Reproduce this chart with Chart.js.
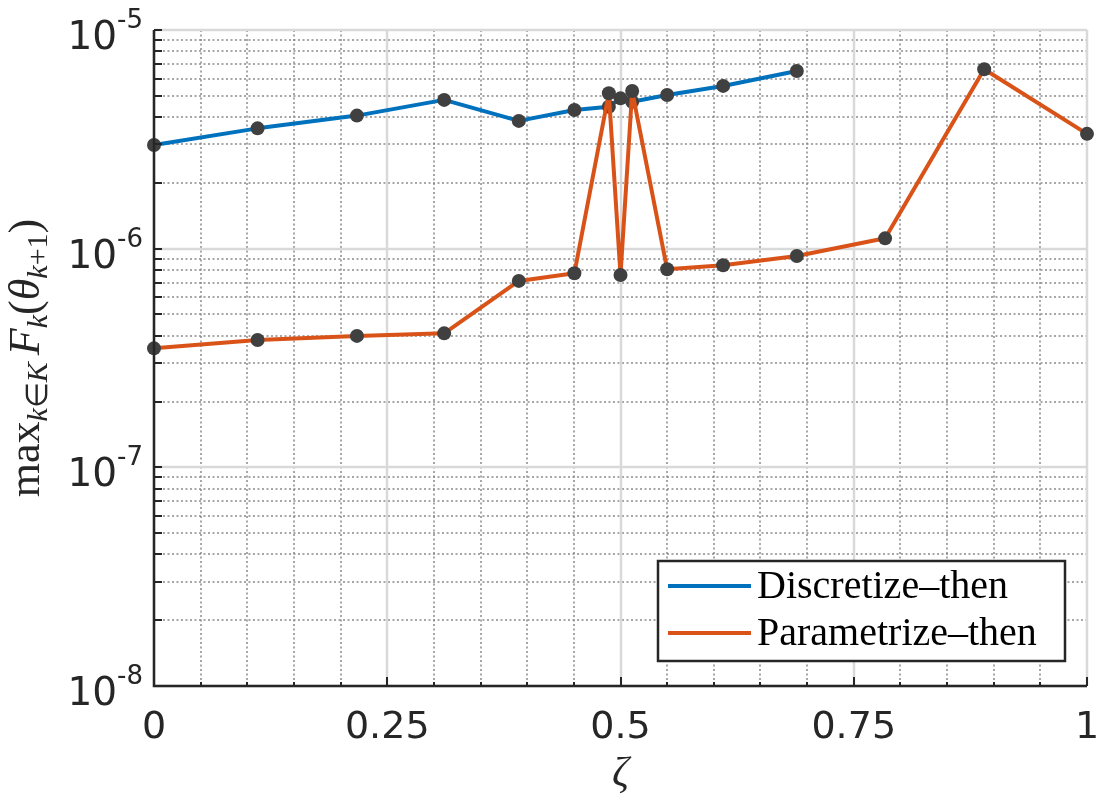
<!DOCTYPE html>
<html>
<head>
<meta charset="utf-8">
<script src="https://cdn.jsdelivr.net/npm/chart.js@4.4.0/dist/chart.umd.min.js"></script>
<style>
  html, body { margin: 0; padding: 0; background: #fff; }
  #wrap { width: 1100px; height: 800px; }
</style>
</head>
<body>
<div id="wrap"><canvas id="chart" width="1100" height="800"></canvas></div>
<script>
// values
const zeta = [0, 0.111, 0.2175, 0.311, 0.391, 0.4506, 0.4875, 0.5, 0.5125, 0.55, 0.61, 0.689, 0.7836, 0.8898, 1.0]
const discretizeThen = [2.98e-6, 3.55e-6, 4.06e-6, 4.79e-6, 3.84e-6, 4.31e-6, 4.46e-6, 4.87e-6, 4.70e-6, 5.04e-6, 5.55e-6, 6.49e-6]
const parametrizeThen = [3.50e-7, 3.82e-7, 3.99e-7, 4.10e-7, 7.12e-7, 7.72e-7, 5.14e-6, 7.58e-7, 5.26e-6, 8.05e-7, 8.40e-7, 9.26e-7, 1.115e-6, 6.61e-6, 3.35e-6]
const seriesNames = ["Discretize–then", "Parametrize–then"]
const seriesColors = ["#0072BD", "#D95319"]

const xTicks = [0, 0.25, 0.5, 0.75, 1]
const xTickLabels = ["0", "0.25", "0.5", "0.75", "1"]
const yTicks = [1e-8, 1e-7, 1e-6, 1e-5]
const yTickExponents = ["-8", "-7", "-6", "-5"]

const AXIS_COLOR = "#262626"
const MARKER_COLOR = "#404040"

function toPoints(xs, ys) {
    return ys.map((y, i) => ({ x: xs[i], y: y }))
}

// minor grid values
const xMinor = []
for (let i = 1; i < 20; i++) {
    if (i % 5 !== 0) xMinor.push(i / 20)
}
const yMinor = []
for (let d = -8; d < -5; d++) {
    for (let m = 2; m <= 9; m++) yMinor.push(m * Math.pow(10, d))
}

function drawParts(ctx, parts, x0, y0) {
    let total = 0
    parts.forEach(p => { ctx.font = p.font; total += ctx.measureText(p.text).width + (p.gap || 0) })
    let x = x0 - total / 2
    parts.forEach(p => {
        ctx.font = p.font
        ctx.fillText(p.text, x, y0 + (p.dy || 0))
        x += ctx.measureText(p.text).width + (p.gap || 0)
    })
}

const matlabAxes = {
    id: "matlabAxes",
    beforeDatasetsDraw(chart) {
        const { ctx, chartArea: a, scales } = chart
        const xs = scales.x, ys = scales.y
        ctx.save()
        // minor dotted grid
        ctx.strokeStyle = "rgba(130,130,130,0.7)"
        ctx.lineWidth = 2
        ctx.setLineDash([2, 2.5])
        xMinor.forEach(v => {
            const px = Math.round(xs.getPixelForValue(v))
            ctx.beginPath(); ctx.moveTo(px, a.top); ctx.lineTo(px, a.bottom); ctx.stroke()
        })
        yMinor.forEach(v => {
            const py = Math.round(ys.getPixelForValue(v))
            ctx.beginPath(); ctx.moveTo(a.left, py); ctx.lineTo(a.right, py); ctx.stroke()
        })
        // major solid grid
        ctx.setLineDash([])
        ctx.strokeStyle = "#d9d9d9"
        ctx.lineWidth = 2.5
        xTicks.forEach(v => {
            const px = Math.round(xs.getPixelForValue(v))
            ctx.beginPath(); ctx.moveTo(px, a.top); ctx.lineTo(px, a.bottom); ctx.stroke()
        })
        yTicks.forEach(v => {
            const py = Math.round(ys.getPixelForValue(v))
            ctx.beginPath(); ctx.moveTo(a.left, py); ctx.lineTo(a.right, py); ctx.stroke()
        })
        ctx.restore()
    },
    afterDatasetsDraw(chart) {
        const { ctx, chartArea: a, scales } = chart
        const xs = scales.x, ys = scales.y
        ctx.save()
        ctx.strokeStyle = AXIS_COLOR
        ctx.fillStyle = AXIS_COLOR
        ctx.lineWidth = 2.5
        // axis lines
        ctx.beginPath()
        ctx.moveTo(a.left, a.top); ctx.lineTo(a.left, a.bottom); ctx.lineTo(a.right, a.bottom)
        ctx.stroke()
        // tick marks
        ctx.lineWidth = 2
        yTicks.concat(yMinor).forEach(v => {
            const py = Math.round(ys.getPixelForValue(v))
            ctx.beginPath(); ctx.moveTo(a.left, py); ctx.lineTo(a.left + 8, py); ctx.stroke()
        })
        xTicks.forEach(v => {
            const px = Math.round(xs.getPixelForValue(v))
            ctx.beginPath(); ctx.moveTo(px, a.bottom); ctx.lineTo(px, a.bottom - 9); ctx.stroke()
        })
        xMinor.forEach(v => {
            const px = Math.round(xs.getPixelForValue(v))
            ctx.beginPath(); ctx.moveTo(px, a.bottom); ctx.lineTo(px, a.bottom - 4); ctx.stroke()
        })
        // x tick labels
        ctx.font = "38px 'DejaVu Sans'"
        ctx.textAlign = "center"
        ctx.textBaseline = "alphabetic"
        xTicks.forEach((v, i) => {
            ctx.fillText(xTickLabels[i], xs.getPixelForValue(v), a.bottom + 52)
        })
        // y tick labels 10^n
        ctx.textAlign = "left"
        yTicks.forEach((v, i) => {
            const py = ys.getPixelForValue(v)
            ctx.font = "26px 'DejaVu Sans'"
            const ew = ctx.measureText(yTickExponents[i]).width
            ctx.font = "39px 'DejaVu Sans'"
            const bw = ctx.measureText("10").width
            const right = a.left - 11
            ctx.fillText("10", right - ew - bw, py + 19)
            ctx.font = "26px 'DejaVu Sans'"
            ctx.fillText(yTickExponents[i], right - ew, py - 2)
        })
        // x axis title
        ctx.textAlign = "center"
        ctx.font = "italic 42px 'Liberation Serif'"
        ctx.fillText("ζ", (a.left + a.right) / 2, a.bottom + 100)
        // y axis title
        ctx.save()
        ctx.translate(39, 358)
        ctx.rotate(-Math.PI / 2)
        ctx.textAlign = "left"
        const big = "44px 'Liberation Serif'", bigI = "italic 44px 'Liberation Serif'"
        const sm = "30px 'Liberation Serif'", smI = "italic 30px 'Liberation Serif'"
        drawParts(ctx, [
            { text: "max", font: big },
            { text: "k", font: smI, dy: 8 },
            { text: "∈", font: sm, dy: 8 },
            { text: "K", font: smI, dy: 8, gap: 7 },
            { text: "F", font: bigI },
            { text: "k", font: smI, dy: 8 },
            { text: "(", font: big },
            { text: "θ", font: bigI },
            { text: "k", font: smI, dy: 8 },
            { text: "+1", font: sm, dy: 8 },
            { text: ")", font: big }
        ], 0, 0)
        ctx.restore()
        // legend
        const lx = 658, ly = 561, lw = 407, lh = 100
        ctx.fillStyle = "#fff"
        ctx.fillRect(lx, ly, lw, lh)
        ctx.strokeStyle = AXIS_COLOR
        ctx.lineWidth = 2.5
        ctx.strokeRect(lx, ly, lw, lh)
        ctx.textAlign = "left"
        ctx.textBaseline = "middle"
        ctx.font = "40px 'Liberation Serif'"
        seriesNames.forEach((name, i) => {
            const yy = ly + 25 + i * 47
            ctx.strokeStyle = seriesColors[i]
            ctx.lineWidth = 4
            ctx.beginPath(); ctx.moveTo(lx + 10, yy); ctx.lineTo(lx + 93, yy); ctx.stroke()
            ctx.fillStyle = "#000"
            ctx.fillText(name, lx + 99, yy + 1)
        })
        ctx.restore()
    }
}

const context = document.getElementById("chart").getContext("2d")
const chart = new Chart(context, {
    type: "line",
    data: {
        datasets: [
            {
                label: seriesNames[0],
                data: toPoints(zeta, discretizeThen),
                borderColor: seriesColors[0],
                borderWidth: 4,
                borderJoinStyle: "round",
                pointBackgroundColor: MARKER_COLOR,
                pointBorderColor: MARKER_COLOR,
                pointRadius: 7,
                pointBorderWidth: 0,
                tension: 0,
                clip: false,
                order: 1
            },
            {
                label: seriesNames[1],
                data: toPoints(zeta, parametrizeThen),
                borderColor: seriesColors[1],
                borderWidth: 4,
                borderJoinStyle: "round",
                pointBackgroundColor: MARKER_COLOR,
                pointBorderColor: MARKER_COLOR,
                pointRadius: 7,
                pointBorderWidth: 0,
                tension: 0,
                clip: false,
                order: 0
            }
        ]
    },
    options: {
        responsive: false,
        animation: false,
        layout: { padding: { left: 154, right: 13, top: 30, bottom: 114 } },
        plugins: { legend: { display: false }, tooltip: { enabled: false } },
        scales: {
            x: { type: "linear", min: 0, max: 1, display: false },
            y: { type: "logarithmic", min: 1e-8, max: 1e-5, display: false }
        }
    },
    plugins: [matlabAxes]
})
</script>
</body>
</html>
